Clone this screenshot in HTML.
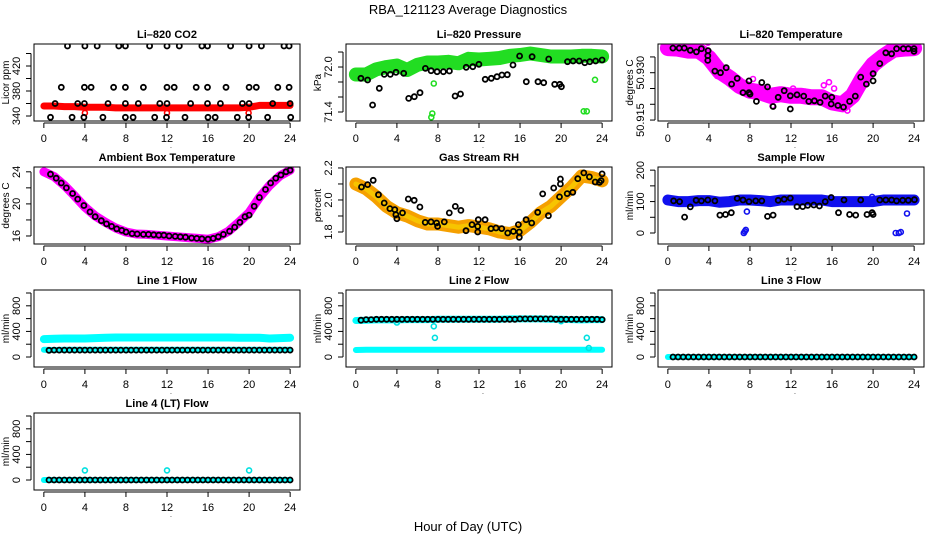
<!DOCTYPE html>
<html><head><meta charset="utf-8"><title>RBA_121123 Average Diagnostics</title>
<style>
html,body{margin:0;padding:0;background:#fff;}
svg{display:block;font-family:"Liberation Sans",Arial,sans-serif;}
</style></head>
<body>
<svg id="chart" xmlns="http://www.w3.org/2000/svg" width="936" height="540" viewBox="0 0 936 540">
<rect width="936" height="540" fill="#fff"/>
<text x="468" y="14" text-anchor="middle" font-size="13">RBA_121123  Average Diagnostics</text>
<text x="468" y="531" text-anchor="middle" font-size="13">Hour of Day (UTC)</text>
</svg>
<script>
// ---------- shared ----------
const bandHours = [0,1,2,3,4,5,6,7,8,9,10,11,12,13,14,15,16,17,18,19,20,21,22,23,24];
const xTicks = [0,4,8,12,16,20,24];
const halfHours = [0.5,1,1.5,2,2.5,3,3.5,4,4.5,5,5.5,6,6.5,7,7.5,8,8.5,9,9.5,10,10.5,11,11.5,12,12.5,13,13.5,14,14.5,15,15.5,16,16.5,17,17.5,18,18.5,19,19.5,20,20.5,21,21.5,22,22.5,23,23.5,24];

// ---------- CO2 ----------
const co2Band = [356,356,355,355,354,354,354,353,353,353,353,353,353,353,353,353,353,353,353,353,354,357,357,357,357];
const co2Hours = [2.3,4.0,5.2,7.3,7.95,10.3,12.0,13.2,15.4,15.95,18.2,20.0,21.2,23.4,23.9,
 1.7,3.95,4.6,6.8,7.95,9.7,12.0,12.7,14.85,15.95,17.75,20.0,20.7,22.8,23.9,
 1.1,3.3,3.95,6.25,7.95,9.2,11.3,12.0,14.3,15.95,17.2,19.35,20.0,22.3,24.0,
 0.65,2.75,3.9,5.75,7.95,8.7,10.8,11.95,13.75,16.0,16.7,18.85,19.95,21.8,24.05];
const co2Values = [452,452,452,452,452,452,452,452,452,452,452,452,452,452,452,
 386,386,386,386,386,386,386,386,386,386,386,386,386,386,386,
 360,360,360,360,360,360,360,360,360,360,360,360,360,360,360,
 338,338,338,338,338,338,338,338,338,338,338,338,338,338,338];
const co2RedHours = [4.0,12.0,19.95];
const co2RedValues = [345,345,345];

// ---------- Pressure ----------
const presBand = [71.90,71.90,71.97,72.00,72.02,71.96,72.03,72.06,72.06,72.07,72.05,72.11,72.10,72.11,72.12,72.15,72.16,72.18,72.16,72.14,72.14,72.14,72.15,72.15,72.14];
const presHours = [0.49,1.14,1.63,2.28,2.77,3.36,3.91,4.66,5.15,5.7,6.25,6.78,7.33,7.92,8.53,9.12,9.67,10.2,10.75,11.4,11.99,12.6,13.2,13.75,14.23,14.76,15.31,15.96,16.61,17.17,17.75,18.3,18.79,19.38,19.87,20.03,20.62,21.17,21.76,22.31,22.8,23.36,24.0];
const presValues = [71.849,71.827,71.493,71.716,71.902,71.902,71.929,71.916,71.582,71.604,71.658,71.982,71.951,71.938,71.938,71.947,71.613,71.64,71.996,72.004,72.036,71.836,71.849,71.871,71.893,71.898,72.027,72.147,71.804,72.138,71.804,71.791,72.107,71.769,71.769,71.738,72.071,72.08,72.08,72.058,72.071,72.08,72.093];
const presGreenHours = [7.35,7.45,7.6,22.2,22.5,23.3,0.1];
const presGreenValues = [71.33,71.38,71.78,71.41,71.41,71.83,71.92];

// ---------- Li-820 Temperature ----------
const tempBand = [50.9378,50.9376,50.9370,50.9370,50.9347,50.9305,50.9284,50.9258,50.9243,50.9238,50.9227,50.9232,50.9227,50.9227,50.9222,50.9222,50.9206,50.9200,50.9227,50.9284,50.9326,50.9352,50.9373,50.9376,50.9378];
const tempHours = [0.49,1.11,1.6,2.19,2.78,3.27,3.92,3.89,3.89,4.58,5.13,5.69,6.21,6.76,7.32,7.91,7.91,8.0,8.63,9.15,9.71,10.26,10.75,11.34,11.93,11.93,12.58,13.24,13.73,14.28,14.84,15.33,15.92,15.98,16.57,17.12,17.71,18.27,18.79,19.35,20.0,20.0,20.65,21.24,21.8,22.29,22.94,23.43,23.99,23.99];
const tempValues = [50.9378,50.9378,50.9378,50.9371,50.9366,50.9376,50.937,50.9354,50.9339,50.9305,50.93,50.9316,50.9264,50.9282,50.9237,50.9274,50.9237,50.9232,50.9209,50.9269,50.9255,50.9193,50.9222,50.9243,50.9185,50.9227,50.923,50.9226,50.9209,50.9211,50.9206,50.9226,50.9201,50.9222,50.9196,50.9191,50.9209,50.9226,50.9286,50.9264,50.9274,50.9297,50.9329,50.9363,50.936,50.9376,50.9376,50.9376,50.9376,50.9368];
const tempMagHours = [4.8,5.5,6.6,7.8,8.3,9.6,10.2,12.2,13.4,15.2,15.7,16.2,17.5,18.6,19.4,20.1,3.9];
const tempMagValues = [50.929,50.931,50.927,50.926,50.928,50.925,50.9195,50.925,50.924,50.926,50.927,50.925,50.918,50.926,50.931,50.9325,50.9395];

// ---------- Ambient Box Temperature ----------
const ambBand = [24.0,23.4,22.3,21.0,19.6,18.5,17.7,17.0,16.5,16.25,16.2,16.1,16.0,15.9,15.8,15.7,15.6,15.9,16.6,17.7,18.9,20.8,22.3,23.5,24.2];
const ambHours = [0.65,1.2,1.7,2.2,2.8,3.3,3.9,4.5,5.0,5.6,6.1,6.6,7.1,7.6,8.0,8.6,9.1,9.7,10.2,10.7,11.2,11.7,12.2,12.8,13.3,13.8,14.4,14.9,15.4,16.0,16.5,17.0,17.5,18.1,18.6,19.1,19.6,20.0,20.5,21.0,21.6,22.1,22.6,23.1,23.6,24.0];
const ambValues = [23.7,23.2,22.6,22.0,21.3,20.6,19.8,19.0,18.4,17.9,17.5,17.2,16.9,16.7,16.5,16.3,16.25,16.2,16.2,16.15,16.1,16.1,16.0,15.95,15.9,15.85,15.75,15.7,15.65,15.6,15.7,15.9,16.2,16.6,17.1,17.7,18.4,18.6,19.7,20.8,21.8,22.6,23.2,23.6,24.0,24.2];

// ---------- Gas Stream RH ----------
const rhBand = [2.10,2.07,2.02,1.96,1.92,1.90,1.87,1.85,1.85,1.84,1.83,1.84,1.83,1.82,1.80,1.79,1.81,1.86,1.92,1.96,2.02,2.08,2.15,2.14,2.12];
const rhHours = [0.55,1.14,1.69,2.21,2.76,3.32,3.8,3.9,4.0,4.55,5.11,5.69,6.24,6.76,7.32,7.87,7.97,8.62,9.11,9.69,10.24,10.73,11.32,11.93,11.87,11.87,12.59,13.17,13.66,14.21,14.8,15.35,15.84,15.93,15.93,16.59,17.14,17.72,18.21,18.76,19.28,19.84,19.93,19.93,20.59,21.14,21.63,22.21,22.76,23.32,23.74,23.9,24.0];
const rhValues = [2.081,2.096,2.123,2.033,1.981,1.946,1.94,1.908,1.883,1.919,2.006,1.998,1.956,1.86,1.863,1.856,1.835,1.863,1.919,1.96,1.935,1.808,1.846,1.877,1.835,1.8,1.877,1.821,1.825,1.821,1.794,1.804,1.846,1.8,1.767,1.877,1.856,1.923,2.038,1.902,2.075,2.019,2.131,2.1,2.04,2.048,2.133,2.169,2.144,2.112,2.11,2.121,2.163];

// ---------- Sample Flow ----------
const sfBand = [105,100,100,103,103,98,100,105,105,103,100,105,105,105,105,105,100,100,100,100,100,105,105,105,105];
const sfHours = [0.56,1.14,1.63,2.19,2.75,3.27,3.89,4.58,5.07,5.62,6.18,6.76,7.32,7.91,8.56,9.15,9.71,10.26,10.75,11.34,11.93,12.58,13.14,13.63,14.22,14.77,15.33,15.92,16.63,17.16,17.71,18.3,18.79,19.41,19.9,20.0,20.65,21.24,21.8,22.29,22.88,23.43,24.02];
const sfValues = [102,100,50.5,83,104,102,105,102,57,59,64.5,110,105,100,102,102,52.7,57,104,107.5,111,84,84,88,89,86,100,113,64.5,105,59,57,105,59,64.5,59,105,105,105,102,104,104,106];
const sfBlueHours = [7.4,7.5,7.6,7.7,22.2,22.5,22.7,23.3,19.9];
const sfBlueValues = [0,5,10,68,0,0,3,62,115];

// ---------- Line flows ----------
const l1Upper = [280,285,290,290,290,295,300,305,305,305,305,305,305,305,305,305,305,305,305,300,300,300,290,295,300];
const l1Lower = [112,110,112,112,112,112,112,115,115,115,112,112,112,112,112,112,112,112,112,112,112,112,112,112,112];
const l1Values = [105,108,108,108,108,108,108,108,108,108,108,108,108,108,108,108,108,108,108,108,108,108,108,108,108,108,108,108,108,108,108,108,108,108,108,108,108,108,108,108,108,108,108,108,108,108,108,108];
const l2Upper = [570,575,580,580,580,585,585,585,590,590,590,590,590,590,590,595,595,595,595,590,590,585,580,585,585];
const l2Lower = [110,112,112,112,112,112,112,112,112,112,112,112,112,112,112,112,112,112,112,112,112,112,112,112,112];
const l2Values = [575,585,585,590,590,590,590,590,590,590,590,590,590,590,590,590,590,590,590,590,590,590,590,590,590,590,590,590,590,590,590,595,595,595,595,595,595,595,590,590,590,590,590,590,590,590,590,585];
const l2CyanHours = [4.0,7.6,7.7,20.0,22.5,22.7];
const l2CyanValues = [540,480,300,560,300,140];
const l3Values = [0,0,0,0,0,0,0,0,0,0,0,0,0,0,0,0,0,0,0,0,0,0,0,0,0,0,0,0,0,0,0,0,0,0,0,0,0,0,0,0,0,0,0,0,0,0,0,0];
const l3Band = [0,0,0,0,0,0,0,0,0,0,0,0,0,0,0,0,0,0,0,0,0,0,0,0,0];
const l4Values = [0,0,0,0,0,0,0,0,0,0,0,0,0,0,0,0,0,0,0,0,0,0,0,0,0,0,0,0,0,0,0,0,0,0,0,0,0,0,0,0,0,0,0,0,0,0,0,0];
const l4Band = [0,0,0,0,0,0,0,0,0,0,0,0,0,0,0,0,0,0,0,0,0,0,0,0,0];
const l4CyanHours = [4.0,12.0,20.0];
const l4CyanValues = [150,150,150];

// ---------- drawing ----------
const NS = "http://www.w3.org/2000/svg";
const svg = document.getElementById("chart");
function mk(tag, attrs, parent){
  const e = document.createElementNS(NS, tag);
  for (const k in attrs) e.setAttribute(k, attrs[k]);
  (parent || svg).appendChild(e);
  return e;
}

function makePanel(r, c, title, ylab, ymin, ymax, yTicks, yLabels, name){
  const L = 34 + 312*c, R = 300 + 312*c, T = 44 + 123*r, B = 121 + 123*r;
  const g = mk("g", {});
  
  
  const x = h => L + (h + 0.96) / 25.92 * (R - L);
  const y = v => T + (ymax - v) / (ymax - ymin) * (B - T);
  const cp = mk("clipPath", {id: "clip-" + name}, g);
  mk("rect", {x: L, y: T, width: R - L, height: B - T}, cp);
  const plot = mk("g", {"clip-path": "url(#clip-" + name + ")"}, g);
  
  
  const t = mk("text", {x: (L + R) / 2, y: T - 6, "text-anchor": "middle", "font-size": 11, "font-weight": "bold"}, g);
  t.textContent = title;
  
  
  const box = mk("rect", {x: L, y: T, width: R - L, height: B - T, fill: "none", stroke: "#000", "stroke-width": 1}, g);
  
  
  const ya = mk("g", {}, g);
  
  
  const ax = L - 3;
  mk("line", {x1: ax, x2: ax, y1: y(yTicks[0]), y2: y(yTicks[yTicks.length - 1]), stroke: "#000"}, ya);
  yTicks.forEach(v => mk("line", {x1: ax - 5, x2: ax, y1: y(v), y2: y(v), stroke: "#000"}, ya));
  yLabels.forEach(v => {
    const tx = mk("text", {x: 0, y: 0, "text-anchor": "middle", "font-size": 11,
      transform: "translate(" + (L - 14) + "," + y(v) + ") rotate(-90)"}, ya);
    tx.textContent = String(v);
    
    
  });
  const yt = mk("text", {x: 0, y: 0, "text-anchor": "middle", "font-size": 10,
    transform: "translate(" + (L - 25) + "," + ((T + B) / 2) + ") rotate(-90)"}, ya);
  yt.textContent = ylab;
  
  
  const xa = mk("g", {}, g);
  
  
  const ay = B + 2;
  mk("line", {x1: x(xTicks[0]), x2: x(xTicks[xTicks.length - 1]), y1: ay, y2: ay, stroke: "#000"}, xa);
  xTicks.forEach(h => {
    mk("line", {x1: x(h), x2: x(h), y1: ay, y2: ay + 5, stroke: "#000"}, xa);
    const tx = mk("text", {x: x(h), y: B + 21, "text-anchor": "middle", "font-size": 11}, xa);
    tx.textContent = String(h);
    
    
  });
  const dot = mk("text", {x: x(12) + 4, y: B + 27, "text-anchor": "middle", "font-size": 7}, xa);
  dot.textContent = ".";
  return {x, y, plot, name};
}

function band(p, hours, vals, color, width, label){
  const pts = hours.map((h, i) => p.x(h).toFixed(1) + "," + p.y(vals[i]).toFixed(1)).join(" ");
  const pl = mk("polyline", {points: pts, fill: "none", stroke: color, "stroke-width": width,
    "stroke-linecap": "round", "stroke-linejoin": "round"}, p.plot);
  
  
}
function points(p, hours, vals, color, sw, label){
  const g = mk("g", {}, p.plot);
  
  
  hours.forEach((h, i) => {
    const c = mk("circle", {cx: p.x(h).toFixed(1), cy: p.y(vals[i]).toFixed(1), r: 2.5,
      fill: "none", stroke: color, "stroke-width": sw}, g);
    
    
  });
}

const flowTicks = [0,200,400,600,800,1000];
const flowLabels = [0,400,800];

p = null;
var p = makePanel(0, 0, "Li\u2013820 CO2", "Licor ppm", 332, 455.2, [340,360,380,400,420,440], [340,380,420], "co2");
band(p, bandHours, co2Band, "#ff0000", 7, "red-band");
points(p, co2RedHours, co2RedValues, "#ff0000", 1.6, "red-points");
points(p, co2Hours, co2Values, "#000", 1.8, "black-points");

p = makePanel(0, 1, "Li\u2013820 Pressure", "kPa", 71.28, 72.307, [71.4,71.6,71.8,72.0,72.2], ["71.4","72.0"], "pressure");
band(p, bandHours, presBand, "#22dd22", 14, "green-band");
points(p, presGreenHours, presGreenValues, "#22dd22", 1.6, "green-points");
points(p, presHours, presValues, "#000", 1.8, "black-points");

p = makePanel(0, 2, "Li\u2013820 Temperature", "degrees C", 50.9147, 50.9391, [50.915,50.92,50.925,50.93,50.935], ["50.915","50.930"], "li820-temp");
band(p, bandHours, tempBand, "#ff00ff", 16, "magenta-band");
points(p, tempMagHours, tempMagValues, "#ff00ff", 1.6, "magenta-points");
points(p, tempHours, tempValues, "#000", 1.8, "black-points");

p = makePanel(1, 0, "Ambient Box Temperature", "degrees C", 15.0, 24.6, [16,18,20,22,24], [16,20,24], "ambient-temp");
band(p, bandHours, ambBand, "#ff00ff", 9, "magenta-band");
points(p, ambHours, ambValues, "#000", 1.8, "black-points");

p = makePanel(1, 1, "Gas Stream RH", "percent", 1.725, 2.206, [1.8,1.9,2.0,2.1,2.2], ["1.8","2.0","2.2"], "rh");
band(p, bandHours, rhBand, "#f5a000", 13, "orange-band");
band(p, bandHours, rhBand, "#f7c400", 5, "yellow-band");
points(p, rhHours, rhValues, "#000", 1.8, "black-points");

p = makePanel(1, 2, "Sample Flow", "ml/min", -35, 210, [0,50,100,150,200], [0,100,200], "sample-flow");
band(p, bandHours, sfBand, "#1010ee", 11, "blue-band");
points(p, sfBlueHours, sfBlueValues, "#1010ee", 1.6, "blue-points");
points(p, sfHours, sfValues, "#000", 1.8, "black-points");

p = makePanel(2, 0, "Line 1 Flow", "ml/min", -156, 1047, flowTicks, flowLabels, "line1-flow");
band(p, bandHours, l1Upper, "#00ffff", 8, "cyan-upper-band");
band(p, bandHours, l1Lower, "#00ffff", 6, "cyan-lower-band");
points(p, halfHours, l1Values, "#000", 1.8, "black-points");

p = makePanel(2, 1, "Line 2 Flow", "ml/min", -156, 1047, flowTicks, flowLabels, "line2-flow");
band(p, bandHours, l2Upper, "#00ffff", 7, "cyan-upper-band");
band(p, bandHours, l2Lower, "#00ffff", 6, "cyan-lower-band");
points(p, l2CyanHours, l2CyanValues, "#00e0e0", 1.6, "cyan-points");
points(p, halfHours, l2Values, "#000", 1.8, "black-points");

p = makePanel(2, 2, "Line 3 Flow", "ml/min", -156, 1047, flowTicks, flowLabels, "line3-flow");
band(p, bandHours, l3Band, "#00ffff", 6, "cyan-band");
points(p, halfHours, l3Values, "#000", 1.8, "black-points");

p = makePanel(3, 0, "Line 4 (LT) Flow", "ml/min", -156, 1047, flowTicks, flowLabels, "line4-flow");
band(p, bandHours, l4Band, "#00ffff", 6, "cyan-band");
points(p, l4CyanHours, l4CyanValues, "#00e0e0", 1.6, "cyan-points");
points(p, halfHours, l4Values, "#000", 1.8, "black-points");
</script>
</body></html>
